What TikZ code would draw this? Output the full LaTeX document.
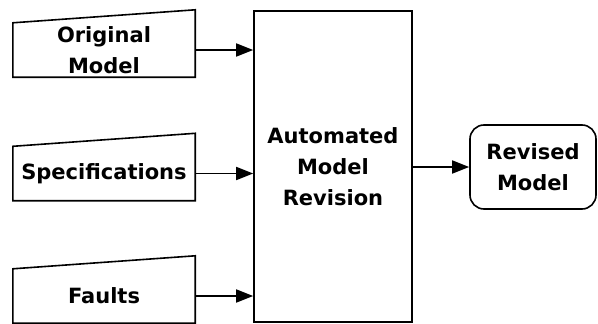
\documentclass[tikz,border=0pt]{standalone}
\usepackage{fontspec}
\setsansfont{DejaVu Sans}
\usetikzlibrary{positioning,arrows.meta}
\newcommand{\inbox}[3]{
  \node[inbox] (#1) at (#2) {#3};
  \draw[edge] (#1.south west) -- (#1.south east) -- ([yshift=13pt]#1.north east) -- (#1.north west) -- cycle;
}

\begin{document}
\begin{tikzpicture}[x=1pt,y=-1pt,
  edge/.style={line width=1.6pt},
  txt/.style={font=\sffamily\bfseries\fontsize{21}{31}\selectfont,align=center},
  inbox/.style={txt,minimum width=182pt,minimum height=54pt,inner sep=0pt},
  feed/.style={edge,-{Triangle[length=17pt,width=13pt]}}]
\useasboundingbox (0,0) rectangle (598,324);
% inputs on the left
\inbox{orig}{104,50}{Original\\Model}
\inbox{spec}{104,173.5}{Specifications}
\inbox{flt}{104,296}{Faults}
% the revision step
\node[txt,draw,line width=1.6pt,minimum width=158pt,minimum height=311pt] (amr) at (333,166.5) {Automated\\Model\\Revision};
% result
\node[txt,draw,line width=1.6pt,rounded corners=14pt,minimum width=126pt,minimum height=84pt] (rev) at (533,167) {Revised\\Model};
\foreach \src in {orig,spec,flt}
  \draw[feed] (\src.east) -- (\src.east -| amr.west);
\draw[feed] (amr.east |- rev.west) -- (rev.west);
\end{tikzpicture}
\end{document}
